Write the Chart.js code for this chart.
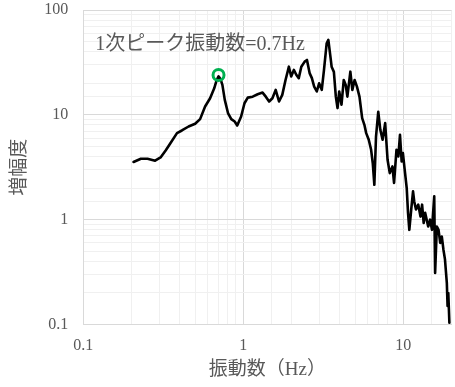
<!DOCTYPE html>
<html>
<head>
<meta charset="utf-8">
<script src="https://cdn.jsdelivr.net/npm/chart.js@4/dist/chart.umd.min.js"></script>
<style>
  html, body { margin: 0; padding: 0; background: #ffffff; overflow: hidden; width: 455px; height: 387px; }
  #wrap { position: absolute; left: 0; top: 0; width: 460px; height: 387px; }
</style>
</head>
<body>
<div id="wrap"><canvas id="chart" width="460" height="387"></canvas></div>
<script>
// Amplification spectrum (frequency in Hz, amplification ratio)
const freq = [
  0.206, 0.229, 0.252, 0.281, 0.304, 0.327, 0.351, 0.385, 0.413, 0.455,
  0.500, 0.537, 0.577, 0.620, 0.658, 0.682, 0.700, 0.720, 0.740, 0.766,
  0.802, 0.841, 0.883, 0.916, 0.969, 1.017, 1.066, 1.144, 1.229, 1.319,
  1.382, 1.450, 1.520, 1.593, 1.672, 1.752, 1.836, 1.927, 1.991, 2.069,
  2.147, 2.221, 2.304, 2.418, 2.499, 2.596, 2.682, 2.772, 2.879, 2.976,
  3.092, 3.193, 3.319, 3.399, 3.512, 3.563, 3.681, 3.786, 3.879, 3.976,
  4.108, 4.243, 4.365, 4.470, 4.666, 4.801, 4.960, 5.13, 5.32, 5.53,
  5.71, 5.86, 6.08, 6.29, 6.44, 6.59, 6.75, 6.97, 7.18, 7.42,
  7.70, 7.97, 8.23, 8.55, 8.75, 9.06, 9.31, 9.53, 9.76, 9.94,
  10.2, 10.5, 10.7, 10.9, 11.2, 11.5, 11.7, 12.0, 12.4, 12.8,
  13.1, 13.4, 13.7, 14.3, 14.7, 15.1, 15.6, 15.8, 16.2, 16.6,
  17.0, 17.4, 17.8, 18.2, 18.7, 18.9, 19.1, 19.4
];
const amp = [
  3.55, 3.81, 3.81, 3.65, 3.92, 4.57, 5.38, 6.69, 7.09, 7.74,
  8.21, 9.10, 12.0, 14.4, 17.9, 21.5, 23.3, 22.0, 19.3, 13.9,
  10.4, 9.10, 8.64, 7.91, 9.63, 12.9, 14.6, 14.9, 15.7, 16.3,
  14.9, 13.4, 14.4, 17.3, 13.4, 15.5, 21.5, 28.8, 23.2, 26.8,
  24.0, 22.4, 28.8, 32.2, 33.4, 25.0, 22.4, 18.6, 16.7, 20.0,
  17.3, 26.8, 48.2, 51.8, 34.7, 28.8, 25.7, 14.9, 11.6, 16.7,
  12.5, 21.5, 19.3, 14.9, 25.8, 17.3, 21.5, 18.6, 14.9, 9.30,
  8.03, 6.69, 5.78, 4.64, 3.47, 2.15, 6.21, 10.7, 7.20, 5.78,
  8.34, 3.73, 2.78, 3.22, 2.24, 4.64, 4.01, 6.45, 3.59, 4.32,
  2.99, 2.00, 1.16, 0.80, 1.25, 1.86, 1.49, 1.25, 1.39, 1.07,
  1.39, 0.93, 1.16, 0.86, 1.00, 0.80, 1.67, 0.31, 0.86, 0.80,
  0.60, 0.69, 0.52, 0.42, 0.25, 0.15, 0.20, 0.104
];

// First natural frequency marker
const peakFreq = [0.7];
const peakAmp = [24];
const peakLabel = '1次ピーク振動数=0.7Hz';

// Axis ticks and titles
const xTickValues = [0.1, 1, 10];
const xTickLabels = ['0.1', '1', '10'];
const yTickValues = [0.1, 1, 10, 100];
const yTickLabels = ['0.1', '1', '10', '100'];
const xTitle = '振動数（Hz）';
const yTitle = '増幅度';

const TEXT = '#595959';
const FONT = '"Liberation Serif", "Noto Sans CJK JP", serif';

const isDecade = v => Math.abs(Math.log10(v) - Math.round(Math.log10(v))) < 1e-6;
const labelFor = (vals, labels) => v => {
  const i = vals.findIndex(t => Math.abs(t - v) / t < 1e-6);
  return i >= 0 ? labels[i] : '';
};
const gridColor = ctx => (ctx.tick && isDecade(ctx.tick.value)) ? '#d9d9d9' : '#f0f0f0';

// keep tick labels from pushing the plot area inward
const noEdgePadding = s => {
  s.paddingTop = 0; s.paddingBottom = 0; s.paddingLeft = 0; s.paddingRight = 0;
};

const spectrum = freq.map((f, i) => ({ x: f, y: amp[i] }));
const peak = peakFreq.map((f, i) => ({ x: f, y: peakAmp[i] }));

// Text note placed in the upper-left of the plot area
const notePlugin = {
  id: 'peakNote',
  afterDatasetsDraw(chart) {
    const { ctx, chartArea } = chart;
    ctx.save();
    ctx.font = '20px ' + FONT;
    ctx.fillStyle = TEXT;
    ctx.textAlign = 'left';
    ctx.textBaseline = 'middle';
    ctx.fillText(peakLabel, chartArea.left + 12, chartArea.top + 35);
    ctx.restore();
  }
};

new Chart(document.getElementById('chart'), {
  type: 'scatter',
  data: {
    datasets: [
      {
        data: peak,
        showLine: false,
        pointRadius: 5.5,
        pointHoverRadius: 5.5,
        pointBorderWidth: 3,
        pointBorderColor: '#00b050',
        pointBackgroundColor: 'rgba(0,0,0,0)'
      },
      {
        data: spectrum,
        showLine: true,
        borderColor: '#000000',
        borderWidth: 2.6,
        borderJoinStyle: 'round',
        borderCapStyle: 'round',
        pointRadius: 0,
        tension: 0
      }
    ]
  },
  options: {
    responsive: false,
    animation: false,
    layout: { padding: { left: 0, top: 10, right: 3.5, bottom: 0 } },
    plugins: { legend: { display: false }, tooltip: { enabled: false } },
    scales: {
      x: {
        type: 'logarithmic',
        min: 0.1,
        max: 20,
        border: { color: '#d9d9d9', width: 1 },
        grid: { color: gridColor, lineWidth: 1, drawTicks: false },
        ticks: {
          autoSkip: false,
          maxRotation: 0,
          padding: 12,
          color: TEXT,
          font: { family: FONT, size: 16 },
          callback: labelFor(xTickValues, xTickLabels)
        },
        title: {
          display: true,
          text: xTitle,
          color: TEXT,
          font: { family: FONT, size: 19 },
          padding: { top: 0, bottom: 5.5 }
        },
        afterFit: s => { s.height = 62.5; noEdgePadding(s); }
      },
      y: {
        type: 'logarithmic',
        min: 0.1,
        max: 100,
        border: { color: '#d9d9d9', width: 1 },
        grid: { color: gridColor, lineWidth: 1, drawTicks: false },
        ticks: {
          autoSkip: false,
          padding: 15,
          color: TEXT,
          font: { family: FONT, size: 16 },
          callback: labelFor(yTickValues, yTickLabels)
        },
        title: {
          display: true,
          text: yTitle,
          color: TEXT,
          font: { family: FONT, size: 19 },
          padding: { top: 8.5, bottom: 0 }
        },
        afterFit: s => { s.width = 83.3; noEdgePadding(s); }
      }
    }
  },
  plugins: [notePlugin]
});
</script>
</body>
</html>
